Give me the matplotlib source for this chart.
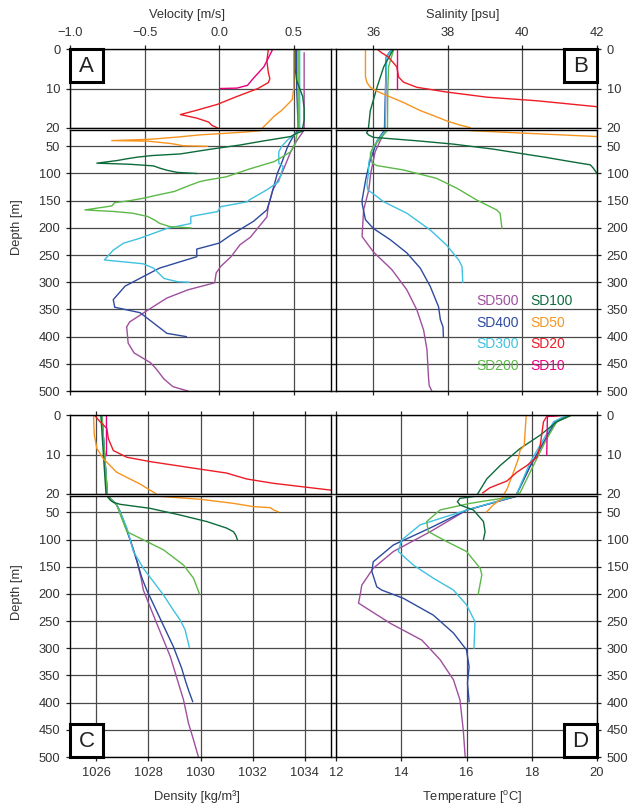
import matplotlib
matplotlib.use('Agg')
import matplotlib.pyplot as plt

plt.rcParams['font.family'] = ['Liberation Sans', 'DejaVu Sans']

W, H = 630, 808

stations = ['SD500', 'SD400', 'SD300', 'SD200', 'SD100', 'SD50', 'SD20', 'SD10']
colors = ['#9e4f9e', '#2e4a9e', '#3fc1e0', '#5cb947', '#0d6b3b', '#f7941d', '#ee1c25', '#e6007e']

# (depth [m], value) pairs
vel_sd500 = [(1, 0.57), (10, 0.57), (20, 0.57), (40, 0.52), (60, 0.48), (100, 0.42), (130, 0.36),
             (160, 0.33), (180, 0.32), (200, 0.26), (217, 0.21), (231, 0.14), (253, 0.08), (271, 0.01),
             (283, -0.02), (301, -0.03), (314, -0.21), (329, -0.35), (348, -0.46), (373, -0.60),
             (382, -0.62), (412, -0.61), (430, -0.57), (448, -0.46), (460, -0.42), (478, -0.37),
             (492, -0.31), (500, -0.21)]
vel_sd400 = [(0, 0.52), (10, 0.52), (20, 0.53), (30, 0.50), (50, 0.46), (80, 0.42), (100, 0.39),
             (130, 0.36), (150, 0.34), (167, 0.32), (188, 0.23), (213, 0.08), (228, 0.0), (239, -0.15),
             (253, -0.15), (274, -0.40), (307, -0.63), (332, -0.71), (346, -0.70), (356, -0.53),
             (375, -0.44), (394, -0.35), (400, -0.22)]
vel_sd300 = [(0, 0.54), (10, 0.54), (20, 0.54), (25, 0.52), (38, 0.46), (50, 0.42), (60, 0.40),
             (81, 0.40), (87, 0.43), (115, 0.40), (130, 0.32), (149, 0.20), (152, 0.19), (161, 0.01),
             (170, -0.01), (179, -0.19), (192, -0.19), (201, -0.35), (219, -0.53), (228, -0.64),
             (241, -0.71), (259, -0.77), (266, -0.51), (274, -0.44), (293, -0.37), (299, -0.28),
             (300, -0.20)]
vel_sd200 = [(0, 0.53), (10, 0.53), (20, 0.53), (30, 0.52), (45, 0.51), (60, 0.48), (70, 0.42),
             (78, 0.37), (92, 0.20), (104, 0.07), (106, 0.05), (112, -0.08), (115, -0.13), (122, -0.20),
             (133, -0.30), (140, -0.42), (145.6, -0.51), (150, -0.60), (153.6, -0.70), (159.7, -0.72),
             (167, -0.90), (170, -0.70), (173, -0.58), (179, -0.48), (186, -0.43), (191.6, -0.40),
             (197.7, -0.33), (200, -0.19)]
vel_sd100 = [(0, 0.51), (5, 0.51), (8, 0.52), (10, 0.54), (12, 0.56), (15, 0.57), (18, 0.57),
             (20, 0.56), (22, 0.56), (26, 0.52), (32, 0.48), (40, 0.30), (47.6, 0.14), (55, -0.05),
             (64, -0.26), (67, -0.45), (70, -0.55), (73, -0.62), (76, -0.68), (81, -0.82), (83, -0.60),
             (86, -0.44), (90, -0.40), (94, -0.35), (98, -0.28), (100, -0.15)]
vel_sd50 = [(0, 0.50), (5, 0.50), (10, 0.50), (12.8, 0.49), (14, 0.46), (15.5, 0.42), (17, 0.37),
            (18.5, 0.33), (20, 0.29), (21.2, 0.28), (24, 0.16), (29, -0.13), (33, -0.28), (37, -0.46),
            (39.5, -0.72), (40.5, -0.48), (45, -0.32), (49, -0.24), (50, -0.08)]
vel_sd20 = [(0, 0.33), (3, 0.32), (6, 0.33), (7.5, 0.34), (8.5, 0.33), (10, 0.26), (12.3, 0.10),
            (14, -0.01), (15.5, -0.15), (16.6, -0.26), (17.5, -0.15), (18.5, -0.07), (19.3, -0.05),
            (20, -0.01)]
vel_sd10 = [(0, 0.36), (1.5, 0.34), (4.5, 0.30), (7.4, 0.23), (9.2, 0.19), (9.9, 0.12), (10, 0.01)]

sal_sd500 = [(0, 36.5), (2, 36.35), (20, 36.32), (60, 36.05), (100, 35.93), (130, 35.88), (167, 35.74),
             (216, 35.7), (244, 36.0), (277, 36.5), (314, 36.9), (351, 37.17), (388, 37.35),
             (424, 37.44), (474, 37.48), (490, 37.5), (500, 37.57)]
sal_sd400 = [(0, 36.5), (2, 36.35), (20, 36.3), (40, 36.1), (80, 35.9), (110, 35.8), (149, 35.7),
             (155, 35.7), (185, 35.79), (201, 36.0), (222, 36.46), (246, 36.9), (274, 37.26),
             (308, 37.53), (345, 37.75), (369, 37.8), (382, 37.87), (400, 37.88)]
sal_sd300 = [(0, 36.5), (2, 36.36), (10, 36.33), (20, 36.32), (23, 36.3), (40, 36.1), (60, 35.95),
             (80, 35.88), (100, 35.87), (120, 35.83), (130, 35.85), (140, 36.05), (152, 36.28),
             (173, 36.9), (204, 37.53), (232, 37.97), (259, 38.29), (271, 38.38), (300, 38.4)]
sal_sd200 = [(0, 36.55), (1, 36.52), (4.5, 36.41), (10, 36.39), (20, 36.38), (23, 36.35), (35, 36.2),
             (50.6, 36.0), (63, 35.92), (81, 35.97), (85.5, 36.1), (93.5, 36.81), (109, 37.7),
             (127, 38.24), (149, 38.78), (167, 39.31), (173, 39.4), (200, 39.45)]
sal_sd100 = [(0, 36.55), (0.7, 36.5), (4.5, 36.28), (9.7, 36.1), (15.6, 35.92), (20, 35.87),
             (23, 35.84), (25, 35.82), (29, 35.87), (33.5, 36.0), (40, 37.2), (46, 38.15), (55, 39.2),
             (63, 39.94), (70, 40.6), (78, 41.28), (84, 41.82), (90, 41.9), (100, 42.0)]
sal_sd50 = [(0, 35.79), (7, 35.79), (8.5, 35.83), (9.7, 35.92), (10.7, 36.1), (11.8, 36.37),
            (13.5, 36.8), (15.6, 37.26), (17, 37.65), (18.2, 37.97), (19.2, 38.3), (19.9, 38.6),
            (21.2, 38.6), (32, 42.0), (50, 44.0)]
sal_sd20 = [(0, 36.1), (0.8, 36.2), (2, 36.4), (4.5, 36.63), (7.1, 36.68), (8.4, 36.81), (9.7, 37.17),
            (10.9, 37.97), (12.2, 39.05), (13.1, 40.38), (14.6, 41.99), (16, 42.6)]
sal_sd10 = [(0, 36.64), (10, 36.64)]

den_sd500 = [(0, 1026.22), (20, 1026.43), (21, 1026.47), (36.5, 1026.79), (48.8, 1026.92),
             (79, 1027.15), (110, 1027.37), (139, 1027.56), (170, 1027.72), (193, 1027.81),
             (254, 1028.32), (315, 1028.84), (395, 1029.35), (438, 1029.54), (468, 1029.73),
             (500, 1029.92)]
den_sd400 = [(0, 1026.22), (20, 1026.43), (21, 1026.47), (36.5, 1026.79), (48.8, 1026.92),
             (79, 1027.15), (110, 1027.37), (139, 1027.56), (170, 1027.75), (193, 1027.94),
             (245, 1028.45), (297, 1028.96), (337, 1029.28), (358, 1029.41), (377, 1029.54),
             (398, 1029.7)]
den_sd300 = [(0, 1026.22), (20, 1026.43), (21, 1026.47), (36.5, 1026.79), (48.8, 1026.92),
             (79, 1027.18), (122, 1027.43), (153, 1027.81), (202, 1028.58), (230, 1028.96),
             (248, 1029.22), (266, 1029.41), (298, 1029.57)]
den_sd200 = [(0, 1026.22), (20, 1026.43), (21, 1026.47), (36.5, 1026.79), (61, 1026.98),
             (85.6, 1027.18), (97.8, 1027.69), (119, 1028.58), (147, 1029.35), (171, 1029.73),
             (200, 1029.96)]
den_sd100 = [(0, 1026.18), (10, 1026.28), (20, 1026.38), (21, 1026.43), (28, 1026.55), (31.6, 1026.66),
             (35.3, 1026.92), (42.7, 1028.07), (55, 1029.22), (67, 1030.24), (79, 1031.0),
             (85.6, 1031.26), (92, 1031.35), (100, 1031.41)]
den_sd50 = [(0, 1025.9), (5, 1025.93), (8.5, 1026.03), (11.1, 1026.28), (14.5, 1026.79),
            (17.5, 1027.69), (19.8, 1028.26), (20.5, 1028.4), (26, 1029.98), (33.5, 1031.26),
            (39.6, 1032.03), (41.4, 1032.67), (45.7, 1032.8), (49, 1032.98)]
den_sd20 = [(0, 1025.93), (1.7, 1026.15), (3.4, 1026.41), (6, 1026.47), (9, 1026.66), (10.7, 1027.18),
            (11.8, 1028.07), (13.7, 1029.98), (14.7, 1031.0), (16.2, 1031.77), (17.3, 1032.8),
            (19, 1034.97), (20, 1036.0)]
den_sd10 = [(0, 1026.38), (10, 1026.38)]

tem_sd500 = [(0, 19.1), (2, 18.7), (13, 17.95), (20, 17.54), (21, 17.5), (46, 16.0), (86, 14.88),
             (122, 13.76), (153, 13.14), (184, 12.79), (202, 12.74), (217, 12.69), (254, 13.66),
             (285, 14.63), (321, 15.19), (358, 15.6), (395, 15.8), (450, 15.9), (500, 15.96)]
tem_sd400 = [(0, 19.1), (2, 18.7), (13, 17.95), (20, 17.54), (21, 17.5), (46, 16.0), (79, 14.88),
             (110, 13.76), (141, 13.14), (159, 13.1), (187, 13.25), (193, 13.4), (208, 14.06),
             (239, 14.98), (272, 15.6), (303, 16.0), (334, 16.08), (364, 16.03), (398, 16.08)]
tem_sd300 = [(0, 19.08), (1.7, 18.67), (12, 17.95), (20, 17.54), (21, 17.44), (46, 16.0), (73, 14.58),
             (101, 14.01), (122, 13.91), (147, 14.37), (171, 14.98), (193, 15.6), (220, 16.0),
             (251, 16.26), (300, 16.23)]
tem_sd200 = [(0, 19.23), (1.7, 18.77), (6, 18.46), (12.8, 18.05), (19.7, 17.64), (20, 17.54),
             (33.5, 16.11), (45.7, 15.19), (67, 14.78), (85.6, 14.83), (104, 15.4), (122, 16.0),
             (153, 16.42), (165, 16.47), (200, 16.36)]
tem_sd100 = [(0, 19.23), (1.7, 18.77), (5.1, 18.26), (8.5, 17.64), (12.8, 17.03), (16.2, 16.62),
             (20, 16.34), (24.3, 15.8), (30.5, 15.72), (36.5, 15.8), (45.7, 16.21), (67, 16.52),
             (85.6, 16.57), (100, 16.52)]
tem_sd50 = [(0, 17.83), (7.7, 17.77), (9, 17.64), (11.1, 17.59), (14.5, 17.44), (18.8, 17.24),
            (20, 17.15), (27, 17.03), (36.5, 16.82), (49, 16.62)]
tem_sd20 = [(0, 19.08), (0.4, 18.46), (1.7, 18.36), (7.7, 18.26), (10.7, 18.16), (12.8, 17.85),
            (14.5, 17.54), (16.7, 17.24), (18.4, 16.72), (19.7, 16.5)]
tem_sd10 = [(0, 19.05), (0.3, 18.48), (10, 18.46)]

vel_ticks = [-1.0, -0.5, 0.0, 0.5]
vel_labels = ['\u22121.0', '\u22120.5', '0.0', '0.5']
sal_ticks = [36, 38, 40, 42]
den_ticks = [1026, 1028, 1030, 1032, 1034]
tem_ticks = [12, 14, 16, 18, 20]
top_depth_ticks = [0, 10, 20]
bot_depth_ticks = list(range(50, 501, 50))


def box(l, t, r, b):
    return [l / W, 1 - b / H, (r - l) / W, (b - t) / H]


fig = plt.figure(figsize=(W / 100, H / 100), dpi=100)


def panel(left, top, xlim, xticks, xlabels, series, labels_on_top, right_side):
    right = left + 261
    ax_t = fig.add_axes(box(left, top, right, top + 79))
    ax_b = fig.add_axes(box(left, top + 81, right, top + 342))
    lines = []
    for prof, col in zip(series, colors):
        z = [p[0] for p in prof]
        v = [p[1] for p in prof]
        ax_t.plot(v, z, color=col, lw=1.0)
        ln, = ax_b.plot(v, z, color=col, lw=1.0)
        lines.append(ln)
    ax_t.set_ylim(20, 0)
    ax_b.set_ylim(500, 20)
    ax_t.set_yticks(top_depth_ticks)
    ax_b.set_yticks(bot_depth_ticks)
    for ax in (ax_t, ax_b):
        ax.set_xlim(*xlim)
        ax.set_xticks(xticks)
        ax.set_xticklabels(xlabels)
        ax.grid(True, color='#4a4a4a', lw=0.9)
        ax.set_axisbelow(True)
        for s in ax.spines.values():
            s.set_linewidth(1.0)
        ax.tick_params(direction='out', length=3, width=0.9, labelsize=9.3, pad=4,
                       colors='#222222', labelcolor='#333333')
        ax.tick_params(axis='y', left=True, right=True,
                       labelleft=not right_side, labelright=right_side)
    ax_t.tick_params(axis='x', top=True, bottom=False,
                     labeltop=labels_on_top, labelbottom=False)
    ax_b.tick_params(axis='x', top=False, bottom=True,
                     labeltop=False, labelbottom=not labels_on_top)
    return ax_t, ax_b, lines


def letter(l, t, text):
    bx = fig.add_axes(box(l, t, l + 33, t + 33))
    bx.set_xticks([])
    bx.set_yticks([])
    bx.set_facecolor('white')
    for s in bx.spines.values():
        s.set_linewidth(2.2)
    bx.text(0.5, 0.47, text, ha='center', va='center', fontsize=16, color='#222222',
            transform=bx.transAxes)


vel_series = [vel_sd500, vel_sd400, vel_sd300, vel_sd200, vel_sd100, vel_sd50, vel_sd20, vel_sd10]
sal_series = [sal_sd500, sal_sd400, sal_sd300, sal_sd200, sal_sd100, sal_sd50, sal_sd20, sal_sd10]
den_series = [den_sd500, den_sd400, den_sd300, den_sd200, den_sd100, den_sd50, den_sd20, den_sd10]
tem_series = [tem_sd500, tem_sd400, tem_sd300, tem_sd200, tem_sd100, tem_sd50, tem_sd20, tem_sd10]

panel(70, 49, (-1.0, 0.75), vel_ticks, vel_labels, vel_series, True, False)
_, axB, linesB = panel(336, 49, (35, 42), sal_ticks, [str(t) for t in sal_ticks],
                       sal_series, True, True)
panel(70, 415, (1025, 1035), den_ticks, [str(t) for t in den_ticks], den_series, False, False)
panel(336, 415, (12, 20), tem_ticks, [str(t) for t in tem_ticks], tem_series, False, True)

axB.legend(linesB, stations, ncol=2, handlelength=0, handletextpad=0, frameon=False,
           labelcolor='linecolor', fontsize=10, columnspacing=0.85, labelspacing=0.55,
           borderpad=0, borderaxespad=0, loc='upper left', bbox_to_anchor=(476 / W, 1 - 294 / H),
           bbox_transform=fig.transFigure)

letter(70, 49, 'A')
letter(564, 49, 'B')
letter(70, 724, 'C')
letter(564, 724, 'D')

txt = dict(fontsize=9.3, color='#333333', ha='center', va='center')
fig.text(187 / W, 1 - 15 / H, 'Velocity [m/s]', **txt)
fig.text(463 / W, 1 - 15 / H, 'Salinity [psu]', **txt)
fig.text(197 / W, 1 - 797 / H, 'Density [kg/m\u00b3]', **txt)
fig.text(472 / W, 1 - 797 / H, r'Temperature [$^\mathregular{o}$C]', **txt)
fig.text(17 / W, 1 - 227 / H, 'Depth [m]', rotation=90, **txt)
fig.text(17 / W, 1 - 592 / H, 'Depth [m]', rotation=90, **txt)

fig.savefig('out.png', dpi=100)
